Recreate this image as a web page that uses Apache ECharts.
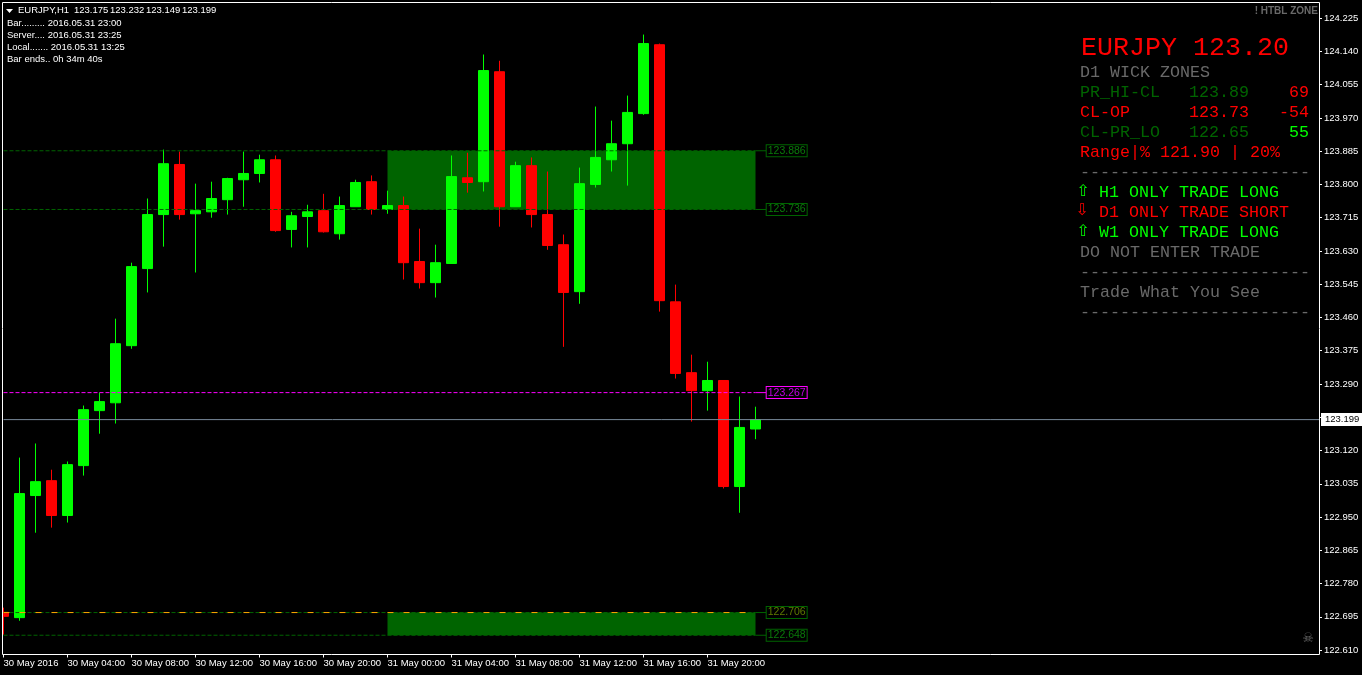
<!DOCTYPE html>
<html lang="en">
<head>
    <meta charset="UTF-8">
    <title>EURJPY,H1</title>
    <script src="https://cdn.jsdelivr.net/npm/echarts@6/dist/echarts.min.js"></script>
    <style>
        html, body { margin: 0; padding: 0; background: #000; }
        #main { width: 1362px; height: 675px; }
    </style>
</head>
<body>
<div id="main"></div>
<script type="text/javascript">
    // bars, one per hour from 30 May 00:00 to 31 May 23:00
    var opens = [122.7065,122.693,123.005,123.043,122.954,123.0815,123.222,123.242,123.388,123.585,123.723,123.851,123.725,123.730,123.761,123.812,123.828,123.863,123.685,123.718,123.733,123.674,123.743,123.807,123.736,123.746,123.603,123.549,123.598,123.817,123.807,124.088,123.743,123.848,123.723,123.646,123.526,123.800,123.863,123.904,123.981,124.157,123.500,123.319,123.273,123.299,123.028,123.175];
    var closes = [122.6963,123.010,123.0405,122.954,123.084,123.2245,123.245,123.393,123.590,123.723,123.853,123.723,123.733,123.764,123.815,123.828,123.863,123.682,123.720,123.730,123.679,123.746,123.805,123.736,123.746,123.600,123.549,123.600,123.820,123.805,124.091,123.743,123.848,123.723,123.644,123.524,123.802,123.869,123.904,123.984,124.160,123.503,123.317,123.273,123.299,123.028,123.179,123.199];
    var lows = [122.6496,122.685,122.910,122.923,122.936,123.056,123.163,123.189,123.380,123.524,123.641,123.710,123.575,123.715,123.723,123.743,123.805,123.679,123.639,123.639,123.677,123.659,123.743,123.723,123.725,123.557,123.534,123.511,123.598,123.779,123.782,123.692,123.743,123.690,123.633,123.385,123.495,123.792,123.833,123.797,123.978,123.475,123.304,123.194,123.222,123.023,122.961,123.149];
    var highs = [122.7186,123.102,123.138,123.071,123.092,123.235,123.268,123.457,123.600,123.764,123.889,123.884,123.802,123.807,123.817,123.884,123.876,123.874,123.730,123.748,123.776,123.769,123.812,123.823,123.784,123.769,123.687,123.646,123.874,123.881,124.132,124.116,123.858,123.869,123.833,123.672,123.843,123.999,123.963,124.027,124.183,124.160,123.544,123.365,123.347,123.299,123.258,123.232];

    var timeTicks = [0,4,8,12,16,20,24,28,32,36,40,44];
    var timeLabels = ['30 May 2016','30 May 04:00','30 May 08:00','30 May 12:00','30 May 16:00','30 May 20:00','31 May 00:00','31 May 04:00','31 May 08:00','31 May 12:00','31 May 16:00','31 May 20:00'];
    var priceTicks = [124.225,124.140,124.055,123.970,123.885,123.800,123.715,123.630,123.545,123.460,123.375,123.290,123.205,123.120,123.035,122.950,122.865,122.780,122.695,122.610];

    var upperZone = [123.886, 123.736];
    var lowerZone = [122.706, 122.648];
    var pivotLevel = 123.268;   // drawn a hair up so the 1px line lands on the pixel row
    var pivotLabel = '123.267';
    var bidPrice = 123.199;
    var zoneStart = 24;
    var zoneEnd = 47;

    var quote = ['123.175', '123.232', '123.149', '123.199'];
    var headerLines = ['Bar......... 2016.05.31 23:00', 'Server.... 2016.05.31 23:25', 'Local....... 2016.05.31 13:25', 'Bar ends.. 0h 34m 40s'];

    var UI_FONT = '"Liberation Sans", sans-serif';
    var MONO = '"Liberation Mono", monospace';
    var DIM = '#696969';
    var DARK = '#006400';
    var RED = '#ff0000';
    var LIME = '#00ff00';

    var xMax = 1315.5 / 16;
    var yMax = 124.2649;
    var yMin = 122.5988;
    var tail = 47.7;   // x where the level label boxes start

    var series = [];
    series.push({
        type: 'line', data: [], z: 1, silent: true,
        markArea: {
            silent: true,
            itemStyle: { color: DARK, opacity: 1 },
            data: [
                [{ coord: [zoneStart, upperZone[0]] }, { coord: [zoneEnd, upperZone[1]] }],
                [{ coord: [zoneStart, lowerZone[0]] }, { coord: [zoneEnd, lowerZone[1]] }]
            ]
        }
    });
    series.push({
        type: 'candlestick',
        z: 2,
        barWidth: 10,
        itemStyle: { color: LIME, borderColor: LIME, color0: RED, borderColor0: RED, borderWidth: 1 },
        data: opens.map(function (o, i) { return [i, o, closes[i], lows[i], highs[i]]; })
    });

    // dashed level across the bars + short solid tail into the boxed label
    function addLevel(value, label, color, textColor) {
        series.push({
            type: 'line', z: 3, silent: true, symbol: 'none',
            lineStyle: { color: color, width: 1, type: [4, 2] },
            data: [[0, value], [zoneEnd, value]]
        });
        series.push({
            type: 'line', z: 3, silent: true, symbol: 'none',
            lineStyle: { color: color, width: 1 },
            data: [[zoneEnd, value], [tail, value]],
            endLabel: {
                show: true, distance: 0,
                formatter: function () { return label; },
                color: textColor, fontFamily: UI_FONT, fontSize: 10.5, lineHeight: 11,
                backgroundColor: '#000', borderColor: color, borderWidth: 1, padding: [0, 1, 0, 1]
            }
        });
    }
    addLevel(upperZone[0], upperZone[0].toFixed(3), DARK, '#0a7a0a');
    addLevel(upperZone[1], upperZone[1].toFixed(3), DARK, '#0a7a0a');
    addLevel(lowerZone[0], lowerZone[0].toFixed(3), DARK, '#5f7a00');
    addLevel(lowerZone[1], lowerZone[1].toFixed(3), DARK, '#0a7a0a');
    addLevel(pivotLevel, pivotLabel, '#ff00ff', '#c000e0');
    series.push({
        type: 'line', z: 3, silent: true, symbol: 'none',
        lineStyle: { color: '#ffa500', width: 1, type: [6, 10] },
        data: [[0, lowerZone[0]], [zoneEnd, lowerZone[0]]]
    });
    series.push({
        type: 'line', z: 3, silent: true, symbol: 'none',
        lineStyle: { color: '#778899', width: 1 },
        data: [[0, bidPrice], [xMax, bidPrice]],
        endLabel: {
            show: true, distance: 2,
            formatter: function () { return bidPrice.toFixed(3); },
            color: '#000', fontFamily: UI_FONT, fontSize: 9.5, lineHeight: 13,
            backgroundColor: '#fff', padding: [0, 4, 0, 4]
        }
    });

    function txt(x, y, s, color, font, align) {
        return {
            type: 'text', z: 100, silent: true,
            style: { x: x, y: y, text: s, fill: color, font: font, align: align || 'left', verticalAlign: 'middle' }
        };
    }
    var ui10 = '9.5px ' + UI_FONT;
    var mono = '16.67px ' + MONO;
    var arrowFont = '16px "DejaVu Sans"';
    var graphics = [
        { type: 'rect', z: 98, silent: true, shape: { x: 0, y: 0, width: 2.5, height: 675 }, style: { fill: '#000' } },
        { type: 'rect', z: 99, silent: true, shape: { x: 2.5, y: 2.5, width: 1317, height: 652 }, style: { fill: null, stroke: '#fff', lineWidth: 1 } },
        { type: 'polygon', z: 100, silent: true, shape: { points: [[6, 9], [13, 9], [9.5, 13]] }, style: { fill: '#fff' } },
        txt(18, 10.5, 'EURJPY,H1', '#fff', ui10),
        txt(1318, 11, '! HTBL ZONE', DIM, 'bold 10px ' + UI_FONT, 'right'),
        txt(1308, 639, '\u2620', DIM, '13px "DejaVu Sans"', 'center'),
        txt(1081, 48, 'EURJPY 123.20', RED, '26.67px ' + MONO),
        txt(1080, 73, 'D1 WICK ZONES', DIM, mono),
        txt(1080, 93, 'PR_HI-CL', DARK, mono), txt(1189, 93, '123.89', DARK, mono), txt(1309, 93, '69', RED, mono, 'right'),
        txt(1080, 113, 'CL-OP', RED, mono), txt(1189, 113, '123.73', RED, mono), txt(1309, 113, '-54', RED, mono, 'right'),
        txt(1080, 133, 'CL-PR_LO', DARK, mono), txt(1189, 133, '122.65', DARK, mono), txt(1309, 133, '55', LIME, mono, 'right'),
        txt(1080, 153, 'Range|% 121.90 | 20%', RED, mono),
        txt(1080, 173, '-----------------------', DIM, mono),
        txt(1083, 192, '\u21e7', LIME, arrowFont, 'center'), txt(1099, 193, 'H1 ONLY TRADE LONG', LIME, mono),
        txt(1082, 211, '\u21e9', RED, arrowFont, 'center'), txt(1099, 213, 'D1 ONLY TRADE SHORT', RED, mono),
        txt(1083, 232, '\u21e7', LIME, arrowFont, 'center'), txt(1099, 233, 'W1 ONLY TRADE LONG', LIME, mono),
        txt(1080, 253, 'DO NOT ENTER TRADE', DIM, mono),
        txt(1080, 273, '-----------------------', DIM, mono),
        txt(1080, 293, 'Trade What You See', DIM, mono),
        txt(1080, 313, '-----------------------', DIM, mono)
    ];
    quote.forEach(function (s, i) {
        graphics.push(txt(74 + i * 36, 10.5, s, '#fff', ui10));
    });
    headerLines.forEach(function (s, i) {
        graphics.push(txt(7, 23.5 + i * 12, s, '#fff', ui10));
    });

    var myChart = echarts.init(document.getElementById('main'));
    myChart.setOption({
        animation: false,
        backgroundColor: '#000',
        grid: { left: 3.5, top: 2.5, width: 1315.5, height: 652 },
        xAxis: {
            type: 'value', min: 0, max: xMax,
            splitLine: { show: false },
            axisLine: { show: false, onZero: false },
            axisTick: { length: 3, lineStyle: { color: '#fff' }, customValues: timeTicks },
            axisLabel: {
                color: '#fff', fontFamily: UI_FONT, fontSize: 9.5, align: 'left', margin: 4,
                customValues: timeTicks,
                formatter: function (v) { return timeLabels[timeTicks.indexOf(v)]; }
            }
        },
        yAxis: {
            type: 'value', position: 'right', min: yMin, max: yMax, scale: true,
            splitLine: { show: false },
            axisLine: { show: false, onZero: false },
            axisTick: { length: 3, lineStyle: { color: '#fff' }, customValues: priceTicks },
            axisLabel: {
                color: '#fff', fontFamily: UI_FONT, fontSize: 9.5, margin: 5,
                customValues: priceTicks,
                formatter: function (v) { return v.toFixed(3); }
            }
        },
        series: series,
        graphic: graphics
    });
</script>
</body>
</html>
